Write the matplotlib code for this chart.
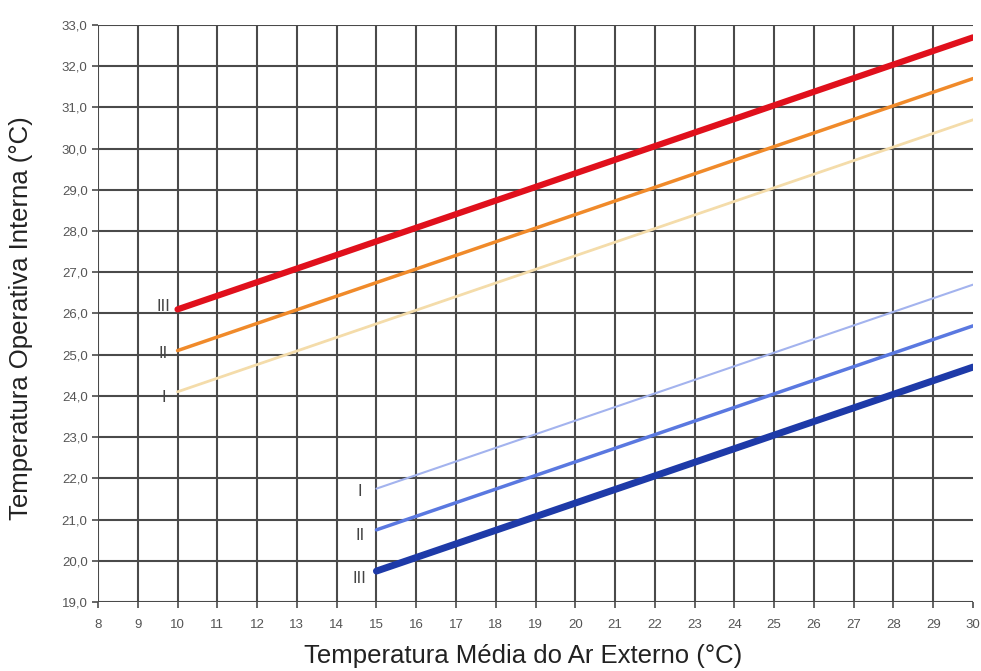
import matplotlib
matplotlib.use("Agg")
import matplotlib.pyplot as plt
import numpy as np

plt.rcParams['font.family'] = ['Liberation Sans', 'DejaVu Sans']

# Data
upper_x = [10, 30]
upper_III = [26.1, 32.7]
upper_II = [25.1, 31.7]
upper_I = [24.1, 30.7]
lower_x = [15, 30]
lower_I = [21.75, 26.7]
lower_II = [20.75, 25.7]
lower_III = [19.75, 24.7]
x_ticks = list(range(8, 31))
y_ticks = [19 + i for i in range(15)]
y_tick_labels = [f"{v:.1f}".replace('.', ',') for v in y_ticks]
upper_labels = ["III", "II", "I"]
upper_label_y = [26.16, 25.04, 23.95]
lower_labels = ["I", "II", "III"]
lower_label_y = [21.67, 20.62, 19.58]

fig = plt.figure(figsize=(9.81, 6.71), dpi=100)
ax = fig.add_axes([98/981, 1-602/671, (973-98)/981, (602-25)/671])
ax.set_xlim(8, 30)
ax.set_ylim(19, 33)

gc = '#4a4a4a'
for xv in x_ticks[:-1]:
    ax.axvline(xv, color=gc, lw=1.5, zorder=1)
for yv in y_ticks:
    ax.axhline(yv, color=gc, lw=1.5, zorder=1)

for s in ax.spines.values():
    s.set_visible(False)

ax.plot(upper_x, upper_I, color='#f4dcaa', lw=2.0, zorder=3, solid_capstyle='round')
ax.plot(upper_x, upper_II, color='#f08a2a', lw=2.5, zorder=3, solid_capstyle='round')
ax.plot(upper_x, upper_III, color='#e0101c', lw=4.5, zorder=3, solid_capstyle='round')
ax.plot(lower_x, lower_I, color='#a3b3ee', lw=1.5, zorder=3, solid_capstyle='round')
ax.plot(lower_x, lower_II, color='#5a78e0', lw=2.5, zorder=3, solid_capstyle='round')
ax.plot(lower_x, lower_III, color='#1e3aa8', lw=5, zorder=3, solid_capstyle='round')

for lab, yv in zip(upper_labels, upper_label_y):
    ax.text(9.65, yv, lab, ha='center', va='center', fontsize=12, color='#444444')
for lab, yv in zip(lower_labels, lower_label_y):
    ax.text(14.58, yv, lab, ha='center', va='center', fontsize=12, color='#444444')

ax.set_xticks(x_ticks)
ax.set_xticklabels([str(v) for v in x_ticks])
ax.set_yticks(y_ticks)
ax.set_yticklabels(y_tick_labels)
ax.tick_params(axis='both', colors=gc, labelcolor='#555555', labelsize=9.5, length=4, width=1.2)
ax.tick_params(axis='x', pad=8)

ax.set_xlabel('Temperatura Média do Ar Externo (°C)', fontsize=18.5, color='#222222')
ax.xaxis.set_label_coords(0.486, -0.072)
ax.set_ylabel('Temperatura Operativa Interna (°C)', fontsize=18.5, color='#222222')
ax.yaxis.set_label_coords(-0.074, 0.492)

fig.savefig('out.png', dpi=100, facecolor='white')
